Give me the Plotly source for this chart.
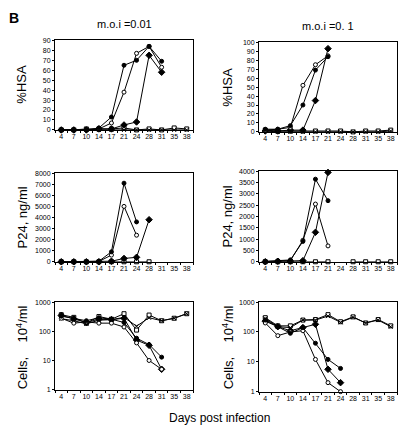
import plotly.graph_objects as go

days = ["4", "7", "10", "14", "17", "21", "24", "28", "31", "35", "38"]

# %HSA, m.o.i = 0.01
hsa01_fc = [0, 0, 0, 2, 13, 65, 70, 84, 69]
hsa01_oc = [0, 0, 0, 1, 7, 38, 77, 84, 63]
hsa01_fd = [0, 0, 0, 1, 1, 5, 8, 75, 58]
hsa01_sq = [0, 0, 1, 1, 1, 2, 0, 1, 0, 2, 1]
hsa01_xx = [0, 0, 0, 0, 0, 0, 0, 0, 0, 0, 0]

# %HSA, m.o.i = 0.1
hsa1_fc = [3, 3, 7, 30, 69, 84]
hsa1_oc = [2, 3, 5, 52, 75, 85]
hsa1_fd = [1, 1, 2, 2, 35, 93]
hsa1_sq = [2, 1, 1, 1, 1, 1, 1, 0, 1, 1, 2]
hsa1_xx = [1, 0, 0, 0, 0, 0, 0, 0, 0, 0, 1]

# P24 ng/ml, m.o.i = 0.01
p2401_fc = [0, 0, 0, 50, 900, 7100, 3600]
p2401_oc = [0, 0, 0, 30, 600, 5000, 2400]
p2401_fd = [0, 0, 0, 0, 50, 300, 400, 3800]
p2401_sq = [0, 0, 0, 0, 0, 0, 0, 0]

# P24 ng/ml, m.o.i = 0.1
p241_fc = [20, 50, 80, 900, 3650, 2700]
p241_oc = [10, 30, 50, 950, 2550, 700]
p241_fd = [0, 20, 30, 50, 1300, 3950]
p241_sq = [0, 0, 0, 0, 0, 0, None, 0, 0, 0, 0]

# Cells 10^4/ml, m.o.i = 0.01
cells01_fc = [330, 280, 230, 290, 260, 200, 58, 35, 13]
cells01_oc = [280, 190, 210, 190, 190, 140, 40, 10, 5]
cells01_fd = [350, 260, 200, 260, 250, 280, 50, 33, 5]
cells01_sq = [370, 300, 190, 320, 260, 400, 110, 360, 230, 280, 400]
cells01_xx = [270, 230, 180, 240, 250, 300, 150, 290, 230, 280, 400]

# Cells 10^4/ml, m.o.i = 0.1
cells1_fc = [250, 150, 90, 140, 42, 12, 6]
cells1_oc = [200, 75, 100, 110, 12, 2, 1]
cells1_fd = [230, 150, 110, 140, 180, 5.6, 2]
cells1_sq = [300, 160, 160, 250, 260, 380, 220, 320, 200, 260, 160]
cells1_xx = [280, 150, 140, 250, 250, 340, 210, 310, 200, 250, 150]

W, H = 404, 433
FONT = "Liberation Sans, Arial, sans-serif"

STYLES = {
    "fc": dict(symbol="circle", size=4, color="black", line=dict(color="black", width=1)),
    "oc": dict(symbol="circle", size=4, color="white", line=dict(color="black", width=1)),
    "fd": dict(symbol="diamond", size=5, color="black", line=dict(color="black", width=1)),
    "sq": dict(symbol="square", size=4, color="white", line=dict(color="black", width=1)),
    "xx": dict(symbol="x-thin", size=4, color="black", line=dict(color="black", width=1)),
}

def px_x(p):
    return p / W

def px_y(p):
    return 1 - p / H

panels = [
    (dict(sq=hsa01_sq, xx=hsa01_xx, fd=hsa01_fd, oc=hsa01_oc, fc=hsa01_fc), (55, 193), (37, 128),
     dict(range=[0, 90], tickvals=list(range(0, 91, 10)))),
    (dict(sq=hsa1_sq, xx=hsa1_xx, fd=hsa1_fd, oc=hsa1_oc, fc=hsa1_fc), (259, 397), (39, 130),
     dict(range=[0, 100], tickvals=list(range(0, 101, 10)))),
    (dict(sq=p2401_sq, fd=p2401_fd, oc=p2401_oc, fc=p2401_fc), (55, 193), (172, 262),
     dict(range=[0, 8000], tickvals=list(range(0, 8001, 1000)))),
    (dict(sq=p241_sq, fd=p241_fd, oc=p241_oc, fc=p241_fc), (259, 397), (170, 262),
     dict(range=[0, 4000], tickvals=list(range(0, 4001, 500)))),
    (dict(sq=cells01_sq, xx=cells01_xx, fd=cells01_fd, oc=cells01_oc, fc=cells01_fc), (55, 193), (303, 392),
     dict(type="log", range=[0, 3], tickvals=[1, 10, 100, 1000], ticktext=["1", "10", "100", "1000"])),
    (dict(sq=cells1_sq, xx=cells1_xx, fd=cells1_fd, oc=cells1_oc, fc=cells1_fc), (259, 397), (303, 394),
     dict(type="log", range=[0, 3], tickvals=[1, 10, 100, 1000], ticktext=["1", "10", "100", "1000"])),
]

fig = go.Figure()
layout = {}
for i, (series, xd, yd, yset) in enumerate(panels):
    n = "" if i == 0 else str(i + 1)
    for key, vals in series.items():
        fig.add_trace(go.Scatter(
            x=days[:len(vals)], y=vals, mode="lines+markers",
            line=dict(color="black", width=1),
            marker=STYLES[key], showlegend=False, cliponaxis=False,
            xaxis="x" + n, yaxis="y" + n, connectgaps=False,
        ))
    layout["xaxis" + n] = dict(
        domain=[px_x(xd[0]), px_x(xd[1])], anchor="y" + n,
        type="category", categoryorder="array", categoryarray=days,
        range=[-0.5, 10.5], showline=True, linecolor="black", linewidth=1, mirror=True,
        ticks="outside", ticklen=2, tickson="boundaries", tickcolor="black", tickangle=0,
        tickfont=dict(size=7, family=FONT, color="black"), showgrid=False, zeroline=False,
    )
    yax = dict(
        domain=[px_y(yd[1]), px_y(yd[0])], anchor="x" + n,
        showline=True, linecolor="black", linewidth=1, mirror=True,
        ticks="outside", ticklen=2, tickcolor="black",
        tickfont=dict(size=7, family=FONT, color="black"), showgrid=False, zeroline=False,
    )
    yax.update(yset)
    layout["yaxis" + n] = yax

annotations = [
    dict(text="<b>B</b>", x=px_x(7), y=px_y(4), xanchor="left", yanchor="top", font=dict(size=14, family=FONT)),
    dict(text="m.o.i =0.01", x=px_x(124), y=px_y(20), xanchor="center", yanchor="middle", font=dict(size=11, family=FONT)),
    dict(text="m.o.i =0. 1", x=px_x(328), y=px_y(22), xanchor="center", yanchor="middle", font=dict(size=11, family=FONT)),
    dict(text="Days post infection", x=px_x(219), y=px_y(421), xanchor="center", yanchor="middle", font=dict(size=12, family=FONT)),
]
ytitles = [("%HSA", 22, 82), ("%HSA", 228, 84), ("P24, ng/ml", 22, 217), ("P24, ng/ml", 228, 216),
           ("Cells,    10<sup>4</sup>/ml", 22, 349), ("Cells,    10<sup>4</sup>/ml", 228, 349)]
for t, x, y in ytitles:
    annotations.append(dict(text=t, x=px_x(x), y=px_y(y), xanchor="center", yanchor="middle",
                            textangle=-90, font=dict(size=13, family=FONT)))
for a in annotations:
    a.update(xref="paper", yref="paper", showarrow=False)
    a["font"]["color"] = "black"

fig.update_layout(
    width=W, height=H, margin=dict(l=0, r=0, t=0, b=0),
    paper_bgcolor="white", plot_bgcolor="white",
    annotations=annotations, **layout,
)

fig.write_html(
    "out.html",
    config={"displayModeBar": False},
    post_script="document.body.style.margin='0';document.body.style.padding='0';"
                "document.documentElement.style.overflow='hidden';",
)
